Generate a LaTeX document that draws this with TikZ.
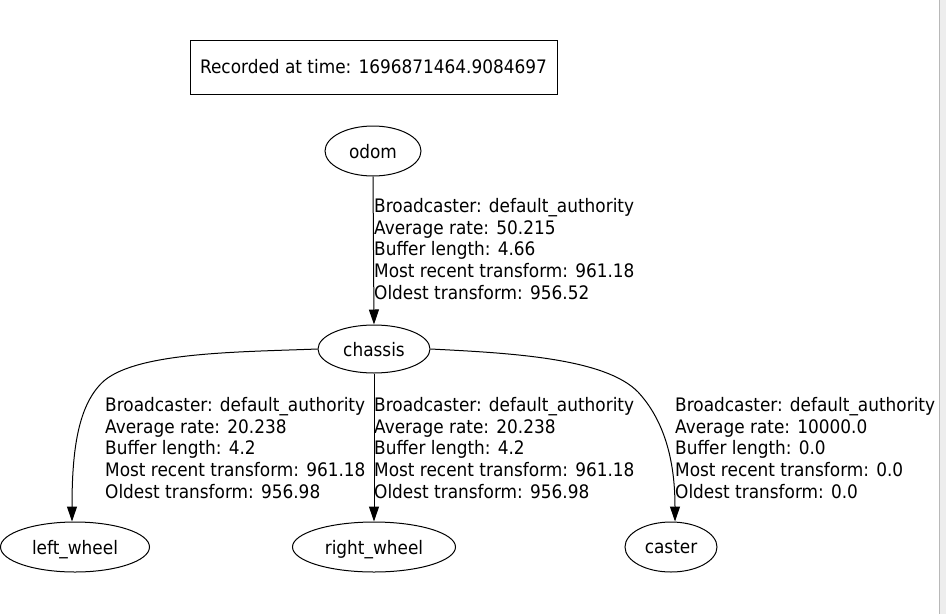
\documentclass[tikz,border=0pt]{standalone}
\usepackage{fontspec}
\setmainfont[FakeStretch=0.91]{DejaVu Sans}
\usetikzlibrary{shapes.geometric,arrows.meta}
\begin{document}
\begin{tikzpicture}[x=1pt,y=-1pt,
  every node/.style={font=\fontsize{18.6}{21.7}\selectfont},
  tfnode/.style={draw,ellipse,line width=1pt,inner sep=0pt,text depth=0pt},
  tfbox/.style={draw,rectangle,line width=1pt,inner sep=0pt},
  edge/.style={line width=1pt,-{Triangle[length=15pt,width=10pt]}},
  lbl/.style={anchor=north west,inner sep=0pt,align=left}]
\useasboundingbox (0,0) rectangle (946,614);
\fill[white] (0,0) rectangle (946,614);
\fill[black!7] (939,0) rectangle (946,614);
\draw[black!28,line width=1pt] (939,0) -- (939,614);

\node[tfbox,minimum width=367pt,minimum height=54pt] (rec) at (373.5,67) {Recorded at time: 1696871464.9084697};
\node[tfnode,minimum width=96pt,minimum height=50pt] (odom) at (373,151) {odom};
\node[tfnode,minimum width=112pt,minimum height=48pt] (chassis) at (374,349) {chassis};
\node[tfnode,minimum width=149pt,minimum height=50pt] (lw) at (75,547) {left\_wheel};
\node[tfnode,minimum width=163pt,minimum height=50pt] (rw) at (374,547) {right\_wheel};
\node[tfnode,minimum width=92pt,minimum height=50pt] (caster) at (671,547) {caster};

\draw[edge] (odom.south) -- (chassis.north);
\draw[edge] (chassis.south) -- (rw.north);
\draw[edge] (chassis.west) .. controls (240,352) and (140,352) .. (105,380)
  .. controls (78,403) and (72,450) .. ([xshift=-3pt]lw.north);
\draw[edge] (chassis.east) .. controls (510,353) and (605,358) .. (638,392)
  .. controls (664,420) and (675,460) .. ([xshift=4pt]caster.north);

\node[lbl] (l1) at (374,198) {Broadcaster: default\_authority\\Average rate: 50.215\\Buffer length: 4.66\\Most recent transform: 961.18\\Oldest transform: 956.52};
\node[lbl] (l2) at (105,397) {Broadcaster: default\_authority\\Average rate: 20.238\\Buffer length: 4.2\\Most recent transform: 961.18\\Oldest transform: 956.98};
\node[lbl] (l3) at (374,397) {Broadcaster: default\_authority\\Average rate: 20.238\\Buffer length: 4.2\\Most recent transform: 961.18\\Oldest transform: 956.98};
\node[lbl] (l4) at (675,397) {Broadcaster: default\_authority\\Average rate: 10000.0\\Buffer length: 0.0\\Most recent transform: 0.0\\Oldest transform: 0.0};
\end{tikzpicture}
\end{document}
